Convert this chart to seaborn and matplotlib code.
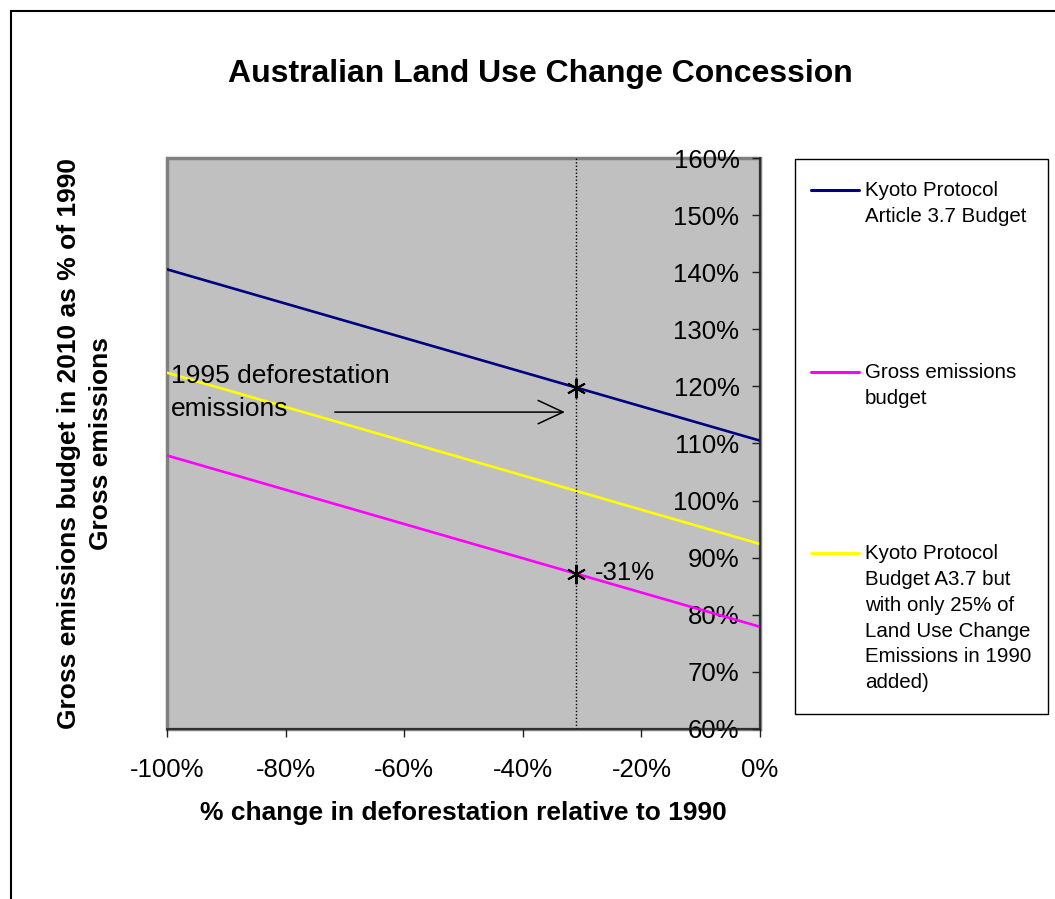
import numpy as np
import pandas as pd
import matplotlib
matplotlib.use("Agg")
import matplotlib.pyplot as plt
import seaborn as sns
from matplotlib.lines import Line2D
from matplotlib.patches import Rectangle
from matplotlib.offsetbox import VPacker, DrawingArea

# ---- data -------------------------------------------------------------
deforestation_change = [-1.0, 0.0]          # change in deforestation vs 1990
kyoto_a37_budget = [1.405, 1.105]           # Kyoto Protocol Article 3.7 budget
kyoto_a37_quarter = [1.224, 0.924]          # A3.7 with only 25% of 1990 LUC emissions
gross_emissions_budget = [1.079, 0.779]     # gross emissions budget

marker_x = [-0.31, -0.31]                   # 1995 deforestation level (-31%)
marker_y = [1.198, 0.872]

series_names = [
    "Kyoto Protocol\nArticle 3.7 Budget",
    "Gross emissions\nbudget",
    "Kyoto Protocol\nBudget A3.7 but\nwith only 25% of\nLand Use Change\nEmissions in 1990\nadded)",
]
series_colors = ["#000080", "#FF00FF", "#FFFF00"]

x_ticks = [-1.0, -0.8, -0.6, -0.4, -0.2, 0.0]
x_tick_labels = ["-100%", "-80%", "-60%", "-40%", "-20%", "0%"]
y_ticks = [0.6, 0.7, 0.8, 0.9, 1.0, 1.1, 1.2, 1.3, 1.4, 1.5, 1.6]
y_tick_labels = ["60%", "70%", "80%", "90%", "100%", "110%", "120%",
                 "130%", "140%", "150%", "160%"]

df = pd.DataFrame({
    "change": deforestation_change * 3,
    "budget": kyoto_a37_budget + gross_emissions_budget + kyoto_a37_quarter,
    "series": [series_names[0]] * 2 + [series_names[1]] * 2 + [series_names[2]] * 2,
})

# ---- style ------------------------------------------------------------
sns.set_theme(style="white")
plt.rcParams["font.family"] = ["Liberation Sans", "DejaVu Sans"]
plt.rcParams["axes.unicode_minus"] = False
for key in ("text.color", "axes.labelcolor", "xtick.color", "ytick.color"):
    plt.rcParams[key] = "black"

W, H = 1055, 899
fig = plt.figure(figsize=(W / 100, H / 100), dpi=100)
fig.patch.set_facecolor("white")

# chart-area border
fig.add_artist(Rectangle((11 / W, -0.2), 1.5, 1.2 - 11 / H,
                         transform=fig.transFigure, fill=False,
                         edgecolor="black", linewidth=1.5, zorder=10))

ax = fig.add_axes([167 / W, 1 - 729 / H, (760 - 167) / W, (729 - 158) / H])
ax.set_facecolor("#C0C0C0")
ax.patch.set_edgecolor("#808080")
ax.patch.set_linewidth(2.5)

sns.lineplot(data=df, x="change", y="budget", hue="series",
             palette=dict(zip(series_names, series_colors)),
             linewidth=1.9, legend=False, ax=ax, sort=False)

ax.axvline(marker_x[0], color="black", linestyle=(0, (1, 1.5)), linewidth=1.0)
ax.plot(marker_x, marker_y, linestyle="none", marker=(6, 2, 0),
        markersize=14, markeredgewidth=1.4, color="black", zorder=5)

ax.set_xlim(-1.0, 0.0)
ax.set_ylim(0.6, 1.6)
ax.set_xticks(x_ticks)
ax.set_xticklabels(x_tick_labels)
ax.set_yticks(y_ticks)
ax.set_yticklabels(y_tick_labels)

# value axis crosses at 0% change, i.e. on the right edge
ax.spines["left"].set_position(("data", 0.0))
ax.spines["right"].set_visible(False)
ax.spines["top"].set_visible(False)
for side in ("left", "bottom"):
    ax.spines[side].set_color("#202020")
    ax.spines[side].set_linewidth(1.2)

ax.tick_params(axis="x", direction="out", length=5.8, width=1, color="#202020",
               labelsize=18.5, pad=15, bottom=True)
ax.tick_params(axis="y", direction="out", length=5.8, width=1, color="#202020",
               labelsize=18.5, pad=9, left=True)

ax.set_xlabel("% change in deforestation relative to 1990",
              fontsize=19, fontweight="bold", labelpad=14)
ax.set_ylabel("Gross emissions budget in 2010 as % of 1990\nGross emissions",
              fontsize=19, fontweight="bold", linespacing=1.42)
ax.yaxis.set_label_coords((113 - 167) / (760 - 167), 0.5)

fig.text(540 / W, 1 - 74 / H, "Australian Land Use Change Concession",
         fontsize=23, fontweight="bold", ha="center", va="center")

# annotations
ax.text(-0.993, 1.190, "1995 deforestation\nemissions", fontsize=19,
        ha="left", va="center", linespacing=1.47)
ax.annotate("", xy=(-0.329, 1.155), xytext=(-0.717, 1.155),
            arrowprops=dict(arrowstyle="->,head_length=1.5,head_width=0.7",
                            color="black", linewidth=1.1, shrinkA=0, shrinkB=0))
ax.text(-0.278, 0.873, "-31%", fontsize=18.5, ha="left", va="center")

# legend
legend_fs = 14.8
handles = [Line2D([0], [0], color=c, linewidth=2.2) for c in series_colors]
leg = fig.legend(handles, series_names, loc="upper left",
                 bbox_to_anchor=(795 / W, 1 - 159 / H), borderaxespad=0,
                 fontsize=legend_fs, frameon=True, fancybox=False, shadow=False,
                 edgecolor="black", framealpha=1, handlelength=2.3,
                 handleheight=1.2, handletextpad=0.3, borderpad=0.8,
                 labelspacing=6.65)
leg.get_frame().set_linewidth(1.0)
for txt in leg.get_texts():
    txt.set_linespacing(1.45)
for col in leg._legend_handle_box.get_children():
    for item in col.get_children():
        item.align = "top"

# extra vertical padding inside the legend frame
extra = 4.3  # points
padded = VPacker(pad=0.8 * legend_fs, sep=0, align="left",
                 children=[DrawingArea(1, extra), leg._legend_handle_box,
                           DrawingArea(1, extra)])
padded.set_figure(fig)
padded.set_offset(leg._findoffset)
leg._legend_box = padded

fig.savefig("out.png", dpi=100)
